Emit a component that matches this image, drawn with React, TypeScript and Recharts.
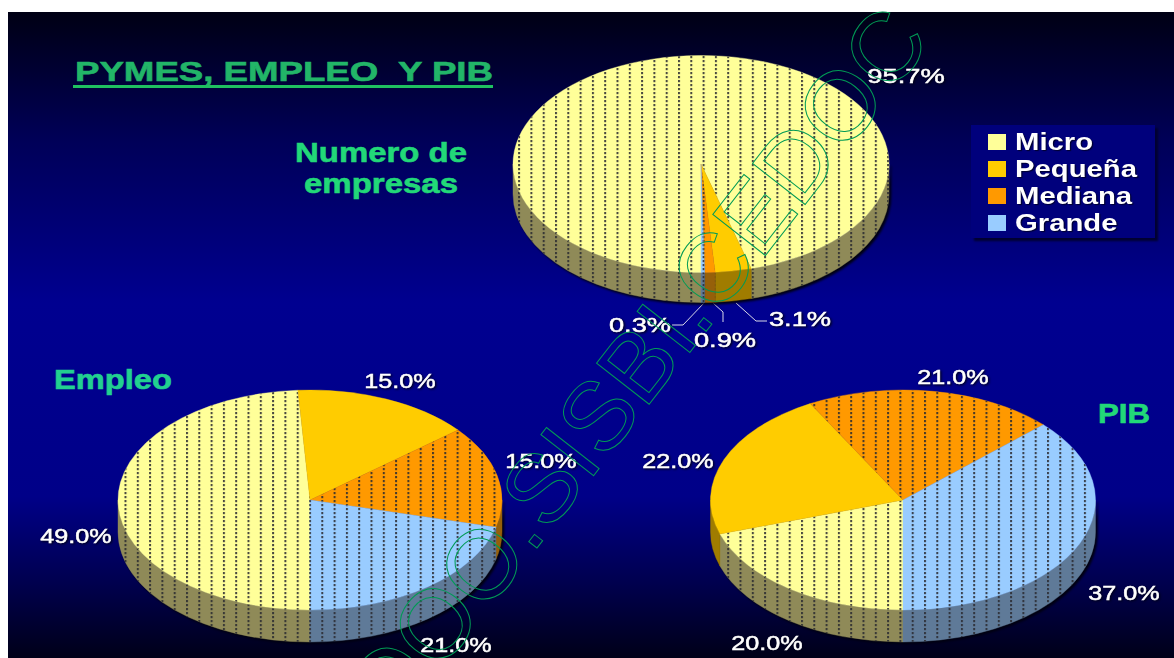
import React from "react";
import { PieChart, Pie, Legend } from "recharts";

const categories = ["Micro", "Pequeña", "Mediana", "Grande"];
const empresasValues = [95.7, 3.1, 0.9, 0.3];
const empleoValues = [49, 15, 15, 21];
const pibValues = [20, 22, 21, 37];

const topColors: Record<string, string> = { Micro: "#ffff99", "Pequeña": "#ffcc00", Mediana: "#ff9900", Grande: "#99ccff" };
const wallColors: Record<string, string> = { Micro: "#8f8a58", "Pequeña": "#a07c00", Mediana: "#96600a", Grande: "#5f7a98" };
const hatched: Record<string, boolean> = { Micro: true, "Pequeña": false, Mediana: true, Grande: true };

const toData = (values: number[]) => values.map((value, i) => ({ category: categories[i], value }));

const rad = (a: number) => (a * Math.PI) / 180;
const pt = (cx: number, cy: number, rx: number, ry: number, a: number) => [cx + rx * Math.cos(rad(a)), cy - ry * Math.sin(rad(a))];

const catOf = (p: any) => p.category ?? p.payload?.category;

const faceShape = (ry: number, patternId: string) => (p: any) => {
  const { cx, cy, outerRadius: rx, startAngle, endAngle } = p;
  const cat = catOf(p);
  const [x0, y0] = pt(cx, cy, rx, ry, startAngle);
  const [x1, y1] = pt(cx, cy, rx, ry, endAngle);
  const large = Math.abs(startAngle - endAngle) > 180 ? 1 : 0;
  const d = `M${cx},${cy}L${x0},${y0}A${rx},${ry} 0 ${large} 1 ${x1},${y1}Z`;
  return (
    <g>
      <path d={d} fill={topColors[cat]} stroke={topColors[cat]} strokeWidth={0.4} />
      {hatched[cat] && <path d={d} fill={`url(#${patternId})`} stroke="none" />}
    </g>
  );
};

const wallShape = (ry: number, depth: number, patternId: string) => (p: any) => {
  const { cx, cy, outerRadius: rx, startAngle, endAngle } = p;
  const cat = catOf(p);
  const ranges = [[0, -90], [270, 180]];
  const paths: string[] = [];
  ranges.forEach(([hi, lo]) => {
    const a = Math.min(startAngle, hi);
    const b = Math.max(endAngle, lo);
    if (a <= b) return;
    const [x0, y0] = pt(cx, cy, rx, ry, a);
    const [x1, y1] = pt(cx, cy, rx, ry, b);
    paths.push(`M${x0},${y0}A${rx},${ry} 0 0 1 ${x1},${y1}L${x1},${y1 + depth}A${rx},${ry} 0 0 0 ${x0},${y0 + depth}Z`);
  });
  return (
    <g>
      {paths.map((d, i) => (
        <g key={i}>
          <path d={d} fill={wallColors[cat]} stroke={wallColors[cat]} strokeWidth={0.4} />
          {hatched[cat] && <path d={d} fill={`url(#${patternId})`} stroke="none" />}
        </g>
      ))}
    </g>
  );
};

const LABEL_FILTER = "drop-shadow(1.5px 1.5px 1px #000018)";
const FONT = "'Liberation Sans', Arial, sans-serif";

const StretchText = ({ x, y, text, size, fill, weight, sx = 1.3, stroke }: any) => (
  <text
    transform={`translate(${x},${y}) scale(${sx},1)`}
    textAnchor="middle"
    fontFamily={FONT}
    fontSize={size}
    fontWeight={weight ?? 400}
    fill={fill}
    stroke={stroke ?? fill}
    strokeWidth={0.5}
    style={{ filter: LABEL_FILTER, whiteSpace: "pre" }}
  >
    {text}
  </text>
);

const labelFor = (positions: number[][], sx: number) => (p: any) => {
  const [x, y] = positions[p.index];
  return <StretchText key={p.index} x={x} y={y} sx={sx} text={`${Number(p.value).toFixed(1)}%`} size={21} fill="#ffffff" />;
};

const empresasLabelPos = [[906, 83], [800, 326], [725, 347], [640, 332]];
const empleoLabelPos = [[76, 543], [400, 388], [541, 468], [456, 652]];
const pibLabelPos = [[767, 650], [678, 468], [953, 384], [1124, 600]];

const leaderLines = ["704,303 683,325 672,325", "713,303 723,312 723,322", "736,303 756,321 767,321"];

const LegendBox = () => (
  <div style={{ width: 184, height: 113, background: "#00007c", boxShadow: "3px 3px 2px #000030", position: "relative", fontFamily: FONT }}>
    {categories.map((c, i) => (
      <div key={c} style={{ position: "absolute", left: 17, top: 3 + i * 27, height: 27, display: "flex", alignItems: "center" }}>
        <span style={{ width: 18, height: 16, background: topColors[c], display: "inline-block" }} />
        <span style={{ marginLeft: 9, color: "#fff", fontSize: 24, fontWeight: 700, transform: "scaleX(1.22)", transformOrigin: "left center", display: "inline-block", textShadow: "1px 1px 1px #000030" }}>{c}</span>
      </div>
    ))}
  </div>
);

const Hatch = ({ id, w, x }: { id: string; w: number; x: number }) => (
  <pattern id={id} patternUnits="userSpaceOnUse" x={x} y={0} width={w} height={4}>
    <rect x={0} y={0} width={2} height={2.2} fill="#2a2a30" opacity={0.85} />
  </pattern>
);

const pieBase = { dataKey: "value", startAngle: 270, endAngle: -90, innerRadius: 0, stroke: "none", isAnimationActive: false, labelLine: false } as any;

const headingProps = { lengthAdjust: "spacingAndGlyphs", fontFamily: FONT, fontSize: 28, fontWeight: 700, strokeWidth: 0.6 } as any;

export default function App() {
  return (
    <div style={{ position: "absolute", left: 0, top: 0, width: 1174, height: 658, background: "#fff", overflow: "hidden" }}>
      <style>{`.wall-pie{filter:drop-shadow(2px 2px 1px #000010)}`}</style>
      <PieChart width={1174} height={658} margin={{ top: 0, right: 0, bottom: 0, left: 0 }}>
        <defs>
          <linearGradient id="bg" x1="0" y1="0" x2="0" y2="1">
            <stop offset="0" stopColor="#000014" />
            <stop offset="0.2" stopColor="#000058" />
            <stop offset="0.45" stopColor="#000090" />
            <stop offset="0.75" stopColor="#000088" />
            <stop offset="0.88" stopColor="#000050" />
            <stop offset="1" stopColor="#000018" />
          </linearGradient>
          <Hatch id="hatchWide" w={12.3} x={1.5} />
        </defs>
        <rect x={8} y={12} width={1166} height={646} fill="url(#bg)" />

        <Pie {...pieBase} className="wall-pie" data={toData(empresasValues)} cx={701} cy={164} outerRadius={188} shape={wallShape(108.5, 30, "hatchWide")} />
        <Pie {...pieBase} data={toData(empresasValues)} cx={701} cy={164} outerRadius={188} shape={faceShape(108.5, "hatchWide")} label={labelFor(empresasLabelPos, 1.3)} />

        <Pie {...pieBase} className="wall-pie" data={toData(empleoValues)} cx={310} cy={500} outerRadius={192} shape={wallShape(110, 32, "hatchWide")} />
        <Pie {...pieBase} data={toData(empleoValues)} cx={310} cy={500} outerRadius={192} shape={faceShape(110, "hatchWide")} label={labelFor(empleoLabelPos, 1.2)} />

        <Pie {...pieBase} className="wall-pie" data={toData(pibValues)} cx={903} cy={500} outerRadius={192.5} shape={wallShape(110, 32, "hatchWide")} />
        <Pie {...pieBase} data={toData(pibValues)} cx={903} cy={500} outerRadius={192.5} shape={faceShape(110, "hatchWide")} label={labelFor(pibLabelPos, 1.2)} />

        {leaderLines.map((points) => (
          <polyline key={points} points={points} fill="none" stroke="#d8d8e8" strokeWidth={1} />
        ))}

        <text {...headingProps} x={75} y={81} textLength={418} fill="#22b568" stroke="#22b568" style={{ whiteSpace: "pre" }}>PYMES, EMPLEO  Y PIB</text>
        <rect x={73} y={85} width={420} height={3} fill="#1fc060" />
        <text {...headingProps} x={295} y={162} textLength={172} fill="#22d878" stroke="#22d878">Numero de</text>
        <text {...headingProps} x={304} y={193} textLength={154} fill="#22d878" stroke="#22d878">empresas</text>
        <text {...headingProps} x={54} y={389} textLength={118} fill="#22d090" stroke="#22d090">Empleo</text>
        <text {...headingProps} x={1098} y={423} textLength={52} fill="#22d878" stroke="#22d878">PIB</text>

        <Legend content={<LegendBox />} wrapperStyle={{ position: "absolute", left: 971, top: 125, width: 184, height: 113, bottom: "auto" }} />
      </PieChart>
      <svg width={1174} height={658} style={{ position: "absolute", left: 0, top: 0, pointerEvents: "none" }}>
        <text transform="translate(933,41) rotate(-52)" textAnchor="end" fontFamily={FONT} fontSize={97} fill="none" stroke="#009a55" strokeWidth={1}>OOO.SISBI.CEDOC</text>
      </svg>
    </div>
  );
}
